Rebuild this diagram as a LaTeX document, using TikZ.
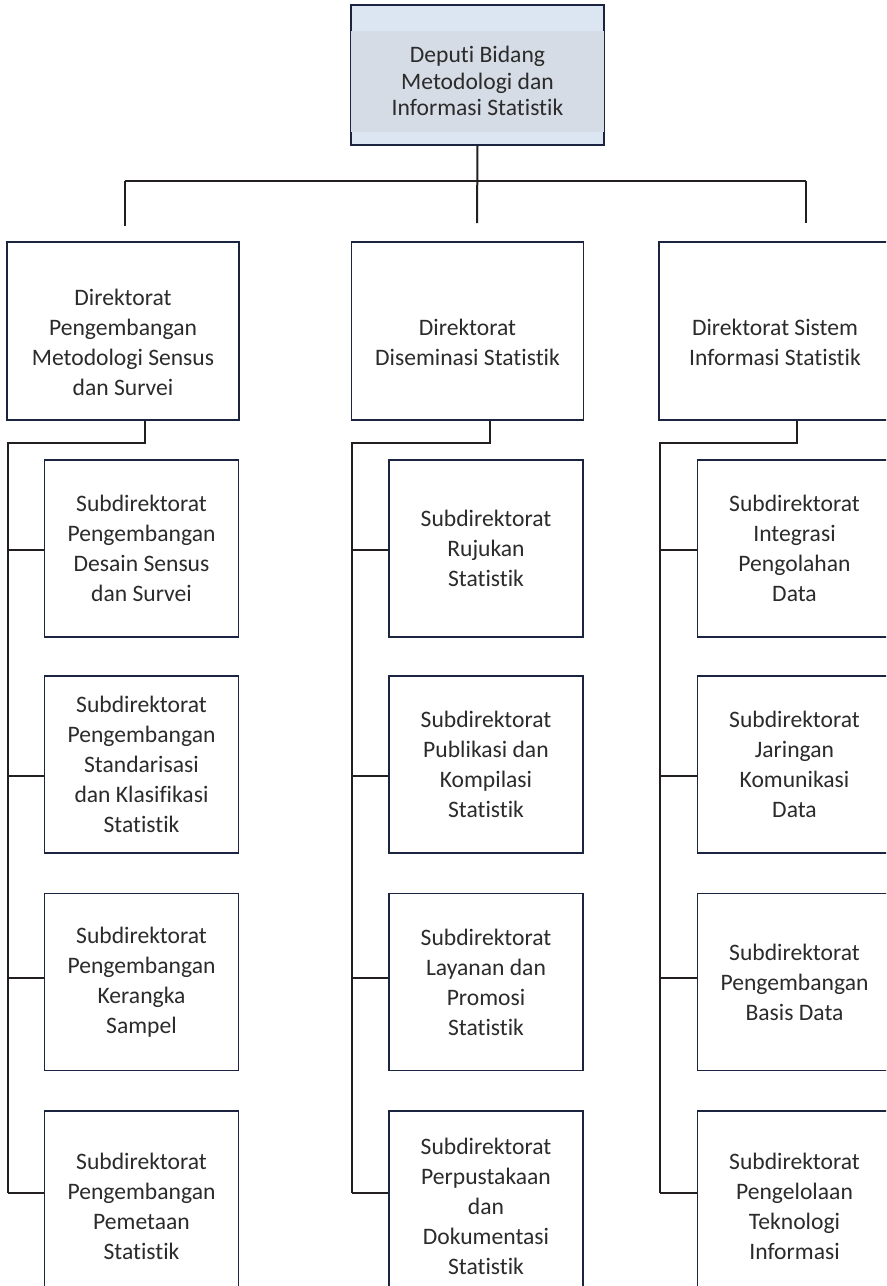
\documentclass[tikz,border=0pt]{standalone}
\usepackage{fontspec}
\setmainfont{Carlito}[Ligatures=NoCommon]
\usepackage{tikz}
\usetikzlibrary{positioning,calc}
\definecolor{boxline}{HTML}{1B2440}
\definecolor{connline}{HTML}{231F20}
\definecolor{boxtext}{HTML}{2B2B2B}
\definecolor{topfill}{HTML}{DCE6F2}
\definecolor{topband}{HTML}{D6DCE5}

\begin{document}
\begin{tikzpicture}
	[x=0.75pt,y=-0.75pt,
	unitbox/.style={draw=boxline,line width=1pt,fill=white,text=boxtext,align=center,
		font=\fontsize{17.7}{22.5}\selectfont,inner sep=0pt},
	dirbox/.style={unitbox,minimum width=174pt,minimum height=133.5pt},
	subbox/.style={unitbox,minimum width=145.5pt,minimum height=132.75pt},
	unittext/.style={text=boxtext,align=center,font=\fontsize{17.7}{22.5}\selectfont},
	conn/.style={draw=connline,line width=1.5pt}]
	\clip (0,0) rectangle (886,1286);
	\useasboundingbox (0,0) rectangle (886,1286);
	%LEVEL 0
	\node[unitbox,fill=topfill,minimum width=189.75pt,minimum height=105pt] (deputi) at (477.5,75) {};
	\fill[topband] ($(deputi.north west)+(1,27)$) rectangle ($(deputi.north east)+(-1,128)$);
	\node[unittext,font=\fontsize{17.7}{19.8}\selectfont] (deputitext) at (477.5,81)
		{Deputi Bidang\\Metodologi dan\\Informasi Statistik};
	\coordinate (bar) at (0,181);
	\coordinate (t1) at (125,226);
	\coordinate (t2) at (477,223);
	\coordinate (t3) at (806,223);
	\draw[conn] (deputi.south) -- (t2);
	\draw[conn] (t1 |- bar) -- (t3 |- bar);
	\draw[conn] (t1 |- bar) -- (t1);
	\draw[conn] (t3 |- bar) -- (t3);
	%LEVEL 1
	\node[dirbox] (d1) at (123,331) {};
	\node[dirbox] (d2) at (467.5,331) {};
	\node[dirbox] (d3) at (775,331) {};
	\node[unittext] (d1text) at (123,342) {Direktorat\\Pengembangan\\Metodologi Sensus\\dan Survei};
	\node[unittext] (d2text) at (467.5,342) {Direktorat\\Diseminasi Statistik};
	\node[unittext] (d3text) at (775,342) {Direktorat Sistem\\Informasi Statistik};
	%LEVEL 2
	\foreach \i/\y/\t in {1/548.5/{Subdirektorat\\Pengembangan\\Desain Sensus\\dan Survei},
		2/764.5/{Subdirektorat\\Pengembangan\\Standarisasi\\dan Klasifikasi\\Statistik},
		3/982/{Subdirektorat\\Pengembangan\\Kerangka\\Sampel}}
	\node[subbox] (s1\i) at (141.5,\y) {\t};
	\node[subbox,minimum height=142.5pt] (s14) at (141.5,1206) {Subdirektorat\\Pengembangan\\Pemetaan\\Statistik};
	\foreach \i/\y/\t in {1/548.5/{Subdirektorat\\Rujukan\\Statistik},
		2/764.5/{Subdirektorat\\Publikasi dan\\Kompilasi\\Statistik},
		3/982/{Subdirektorat\\Layanan dan\\Promosi\\Statistik}}
	\node[subbox] (s2\i) at (486,\y) {\t};
	\node[subbox,minimum height=142.5pt] (s24) at (486,1206) {Subdirektorat\\Perpustakaan\\dan\\Dokumentasi\\Statistik};
	\foreach \i/\y/\t in {1/548.5/{Subdirektorat\\Integrasi\\Pengolahan\\Data},
		2/764.5/{Subdirektorat\\Jaringan\\Komunikasi\\Data},
		3/982/{Subdirektorat\\Pengembangan\\Basis Data}}
	\node[subbox] (s3\i) at (794.5,\y) {\t};
	\node[subbox,minimum height=142.5pt] (s34) at (794.5,1206) {Subdirektorat\\Pengelolaan\\Teknologi\\Informasi};
	% connectors to subdirektorat
	\foreach \c in {1,2,3}
	{
		\coordinate (b\c) at ([xshift=1pt,yshift=-16.5pt]d\c.south west);
		\foreach \r/\dy in {1/-1.1,2/-8.6,3/3,4/9.75}
		\coordinate (c\c\r) at ([yshift=\dy pt]s\c\r.west);
		\draw[conn] ([xshift=104.25pt]d\c.south west) |- (b\c) -- (b\c |- c\c4);
		\foreach \r in {1,...,4}
		\draw[conn] (b\c |- c\c\r) -- (c\c\r);
	};
\end{tikzpicture}
\end{document}
